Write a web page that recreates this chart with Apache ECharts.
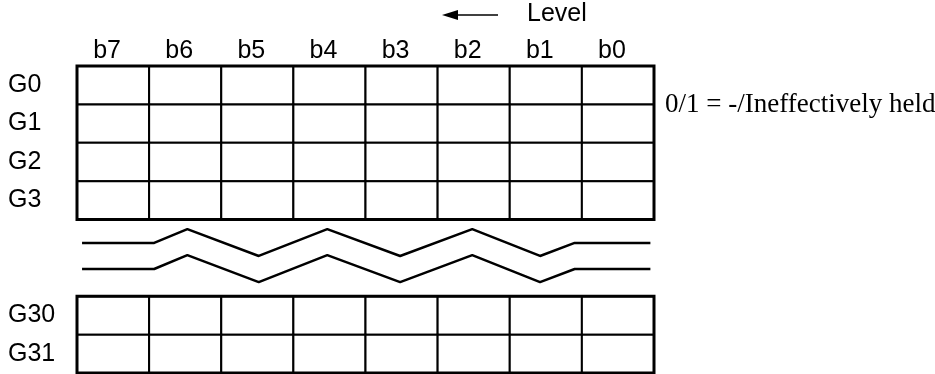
<!DOCTYPE html>
<html><head><meta charset="utf-8">
<script src="https://cdn.jsdelivr.net/npm/echarts@6/dist/echarts.min.js"></script>
<style>html,body{margin:0;padding:0;background:#fff}#c{width:935px;height:374px}</style>
</head><body><div id="c"></div><script>
const bitLabels = ['b7','b6','b5','b4','b3','b2','b1','b0'];
const groupLabels = ['G0','G1','G2','G3','','','G30','G31'];
const cellRows = [0,1,2,3,6,7];
const blocks = [[0,0,8,4],[0,6,8,8]];
const zigX = [0.07,1.07,1.53,2.52,3.47,4.48,5.48,6.42,6.9,7.95];
const zigUpper = [4.61,4.61,4.25,4.95,4.25,4.95,4.25,4.95,4.61,4.61];
const zigLower = [5.29,5.29,4.93,5.63,4.93,5.63,4.93,5.63,5.29,5.29];
const noteText = '0/1 = -/Ineffectively held';
const levelText = 'Level';

const cells = [];
cellRows.forEach(r => { for (let c = 0; c < bitLabels.length; c++) cells.push([c, r]); });

const chart = echarts.init(document.getElementById('c'), null, {renderer:'canvas'});
const sans = 'Liberation Sans, Arial, sans-serif';
chart.setOption({
  animation: false,
  backgroundColor: '#fff',
  grid: {left: 77, right: 281, top: 66, bottom: 1},
  xAxis: [
    {type:'value', min:0, max:8, show:false},
    {type:'category', data: bitLabels, position:'top', boundaryGap:true,
     axisLine:{show:false}, axisTick:{show:false}, splitLine:{show:false},
     axisLabel:{color:'#000', fontFamily:sans, fontSize:25, margin:2, padding:[0,12,0,0]}}
  ],
  yAxis: [
    {type:'value', min:0, max:8, inverse:true, show:false},
    {type:'category', data: groupLabels, inverse:true, boundaryGap:true, position:'left',
     axisLine:{show:false}, axisTick:{show:false}, splitLine:{show:false},
     axisLabel:{color:'#000', fontFamily:sans, fontSize:25, margin:69, align:'left', padding:[10,0,0,0]}}
  ],
  series: [
    {type:'custom', xAxisIndex:0, yAxisIndex:0, data: cells, silent:true,
     renderItem: (params, api) => {
       const p0 = api.coord([api.value(0), api.value(1)]);
       const p1 = api.coord([api.value(0)+1, api.value(1)+1]);
       return {type:'rect', shape:{x:p0[0], y:p0[1], width:p1[0]-p0[0], height:p1[1]-p0[1]},
               style:{fill:'#fff', stroke:'#000', lineWidth:2}};
     }},
    {type:'custom', xAxisIndex:0, yAxisIndex:0, data: blocks, silent:true, z:3,
     renderItem: (params, api) => {
       const p0 = api.coord([api.value(0), api.value(1)]);
       const p1 = api.coord([api.value(2), api.value(3)]);
       return {type:'rect', shape:{x:p0[0], y:p0[1], width:p1[0]-p0[0], height:p1[1]-p0[1]},
               style:{fill:'none', stroke:'#000', lineWidth:3}};
     }},
    {type:'line', xAxisIndex:0, yAxisIndex:0, data: zigX.map((x,i)=>[x, zigUpper[i]]),
     symbol:'none', lineStyle:{color:'#000', width:2.5}, silent:true},
    {type:'line', xAxisIndex:0, yAxisIndex:0, data: zigX.map((x,i)=>[x, zigLower[i]]),
     symbol:'none', lineStyle:{color:'#000', width:2.5}, silent:true}
  ],
  graphic: [
    {type:'line', shape:{x1:456, y1:15, x2:498, y2:15}, style:{stroke:'#000', lineWidth:1.5}},
    {type:'polygon', shape:{points:[[442,15],[458,10],[458,20]]}, style:{fill:'#000'}},
    {type:'text', x:527, y:14, style:{text: levelText, font:'25px '+sans, fill:'#000', textVerticalAlign:'middle'}},
    {type:'text', x:665, y:105, style:{text: noteText, font:'27px Liberation Serif, Times New Roman, serif', fill:'#000', textVerticalAlign:'middle'}}
  ]
});
</script></body></html>
